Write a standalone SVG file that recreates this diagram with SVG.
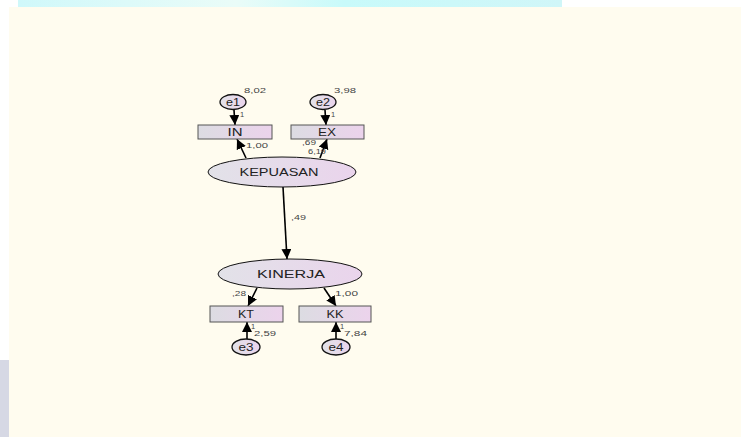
<svg xmlns="http://www.w3.org/2000/svg" width="741" height="437" viewBox="0 0 741 437">
<defs>
<linearGradient id="gbox" x1="0" y1="0" x2="1" y2="0">
<stop offset="0" stop-color="#dcdce2"/>
<stop offset="1" stop-color="#ecd3ec"/>
</linearGradient>
<linearGradient id="gell" x1="0" y1="0" x2="1" y2="0">
<stop offset="0" stop-color="#e2e2e8"/>
<stop offset="1" stop-color="#ead4ec"/>
</linearGradient>
<linearGradient id="gtop" x1="0" y1="0" x2="1" y2="0">
<stop offset="0" stop-color="#cff8fa"/>
<stop offset="0.4" stop-color="#eafcf8"/>
<stop offset="0.6" stop-color="#c8fafa"/>
<stop offset="1" stop-color="#d0f6f8"/>
</linearGradient>
<marker id="ah" markerWidth="11" markerHeight="11" refX="10" refY="5" orient="auto" markerUnits="userSpaceOnUse">
<path d="M0,0 L10,5 L0,10 Z" fill="#000"/>
</marker>
<style>
.box{fill:url(#gbox);stroke:#555;stroke-width:1}
.lat{fill:url(#gell);stroke:#111;stroke-width:1}
.err{fill:url(#gell);stroke:#111;stroke-width:1.3}
.lbl{font-family:"Liberation Sans",Arial,sans-serif;font-size:10px;fill:#222;text-anchor:middle}
.num{font-family:"Liberation Sans",Arial,sans-serif;font-size:7.5px;fill:#444}
.edge{stroke:#000;stroke-width:1.6;fill:none;marker-end:url(#ah)}
</style>
</defs>
<rect width="741" height="437" fill="#ffffff"/>
<rect x="18" y="0" width="544" height="7" fill="url(#gtop)"/>
<rect x="9" y="7" width="732" height="430" fill="#fffcef"/>
<rect x="0" y="360" width="9" height="77" fill="#d6d8e4"/>

<g id="connectors">
<line class="edge" x1="234" y1="110" x2="235" y2="125"/>
<line class="edge" x1="325" y1="110" x2="326" y2="125"/>
<line class="edge" x1="246" y1="158" x2="237" y2="139"/>
<line class="edge" x1="320" y1="158" x2="327" y2="139"/>
<line class="edge" x1="283" y1="187" x2="287" y2="259"/>
<line class="edge" x1="257" y1="288" x2="248" y2="306"/>
<line class="edge" x1="324" y1="288" x2="336" y2="306"/>
<line class="edge" x1="247" y1="339" x2="247" y2="322"/>
<line class="edge" x1="336" y1="339" x2="336" y2="322"/>
</g>

<g id="e1">
<ellipse class="err" cx="233" cy="102" rx="13" ry="7.5"/>
<text class="lbl" x="233" y="105.5" textLength="14" lengthAdjust="spacingAndGlyphs">e1</text>
<text class="num" x="244" y="93" textLength="22" lengthAdjust="spacingAndGlyphs">8,02</text>
</g>
<g id="e2">
<ellipse class="err" cx="323" cy="102" rx="13" ry="7.5"/>
<text class="lbl" x="323" y="105.5" textLength="14" lengthAdjust="spacingAndGlyphs">e2</text>
<text class="num" x="334" y="93" textLength="22" lengthAdjust="spacingAndGlyphs">3,98</text>
</g>
<g id="IN">
<rect class="box" x="198" y="125" width="74" height="14"/>
<text class="lbl" x="235" y="135.5" textLength="15" lengthAdjust="spacingAndGlyphs">IN</text>
</g>
<g id="EX">
<rect class="box" x="291" y="125" width="73" height="14"/>
<text class="lbl" x="327" y="135.5" textLength="18" lengthAdjust="spacingAndGlyphs">EX</text>
</g>
<g id="KEPUASAN">
<ellipse class="lat" cx="282" cy="172" rx="74" ry="15"/>
<text class="lbl" x="279" y="175.5" textLength="79" lengthAdjust="spacingAndGlyphs">KEPUASAN</text>
<text class="num" x="308" y="154" textLength="18" lengthAdjust="spacingAndGlyphs">6,19</text>
</g>
<g id="KINERJA">
<ellipse class="lat" cx="290" cy="274" rx="72" ry="15"/>
<text class="lbl" x="291" y="277.5" textLength="68" lengthAdjust="spacingAndGlyphs">KINERJA</text>
</g>
<g id="KT">
<rect class="box" x="210" y="306" width="73" height="16"/>
<text class="lbl" x="246" y="317.5" textLength="16" lengthAdjust="spacingAndGlyphs">KT</text>
</g>
<g id="KK">
<rect class="box" x="299" y="306" width="72" height="16"/>
<text class="lbl" x="335" y="317.5" textLength="17" lengthAdjust="spacingAndGlyphs">KK</text>
</g>
<g id="e3">
<ellipse class="err" cx="246" cy="347" rx="14" ry="8"/>
<text class="lbl" x="246" y="350.5" textLength="15" lengthAdjust="spacingAndGlyphs">e3</text>
</g>
<g id="e4">
<ellipse class="err" cx="336" cy="347" rx="14" ry="8"/>
<text class="lbl" x="336" y="350.5" textLength="15" lengthAdjust="spacingAndGlyphs">e4</text>
</g>

<g id="labels">
<text class="num" x="240" y="117">1</text>
<text class="num" x="331" y="117">1</text>
<text class="num" x="246" y="148" textLength="22" lengthAdjust="spacingAndGlyphs">1,00</text>
<text class="num" x="302" y="145" textLength="14" lengthAdjust="spacingAndGlyphs">,69</text>
<text class="num" x="291" y="220" textLength="15" lengthAdjust="spacingAndGlyphs">,49</text>
<text class="num" x="232" y="296" textLength="14" lengthAdjust="spacingAndGlyphs">,28</text>
<text class="num" x="335" y="296" textLength="23" lengthAdjust="spacingAndGlyphs">1,00</text>
<text class="num" x="251" y="329">1</text>
<text class="num" x="254" y="336" textLength="22" lengthAdjust="spacingAndGlyphs">2,59</text>
<text class="num" x="340" y="329">1</text>
<text class="num" x="344" y="336" textLength="23" lengthAdjust="spacingAndGlyphs">7,84</text>
</g>
</svg>
